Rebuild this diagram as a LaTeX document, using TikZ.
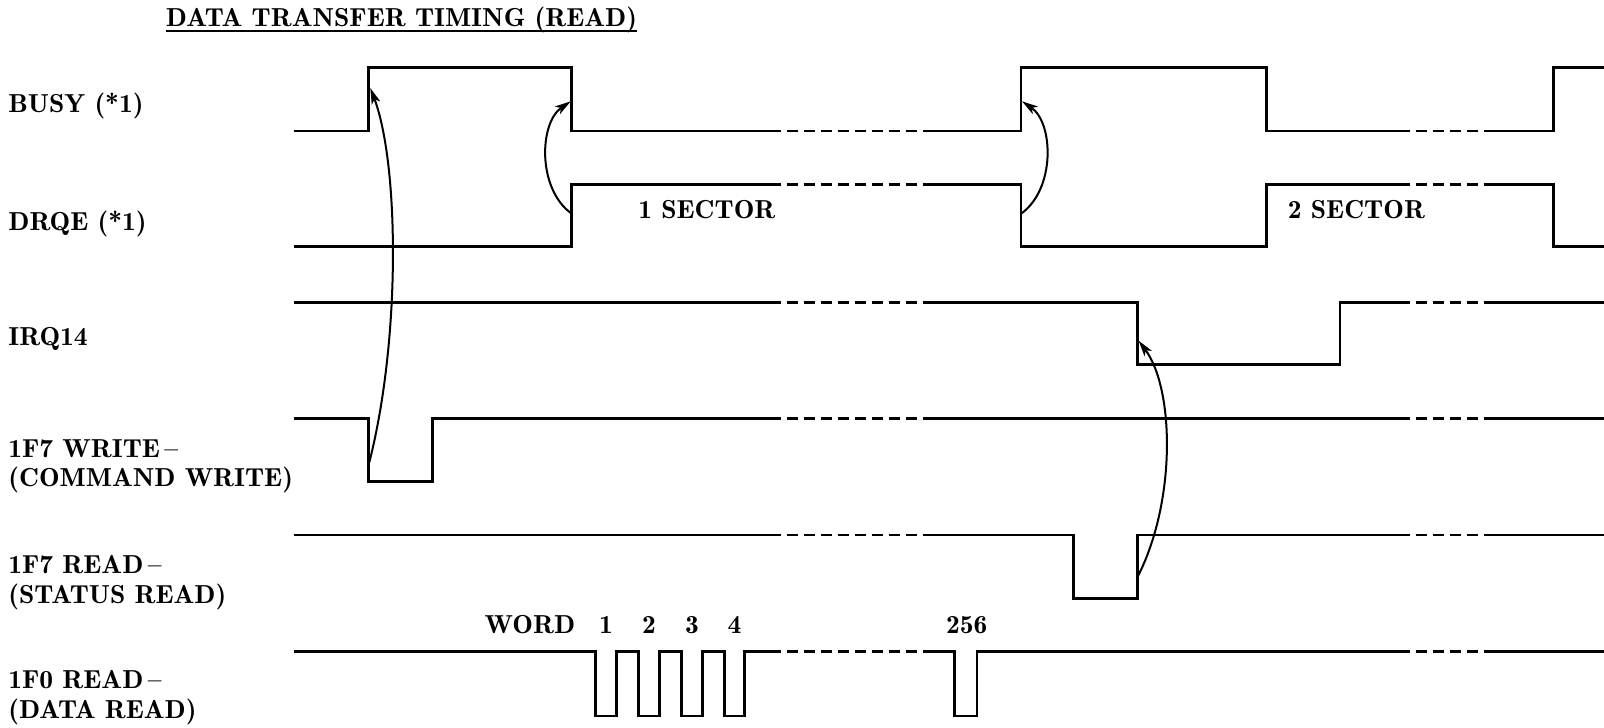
\documentclass[tikz,border=0pt]{standalone}
\usepackage{fontspec}
\setmainfont{lmromandemi10-regular.otf}[FakeStretch=1.06]
\usetikzlibrary{arrows.meta}
\begin{document}
\begin{tikzpicture}[x=1.023pt,y=-1.023pt,
  sig/.style={line width=2.8pt, line join=miter, line cap=butt},
  gap/.style={sig, dash pattern=on 11pt off 6pt, dash phase=11pt},
  cause/.style={line width=2pt, -{Stealth[length=16pt,width=9pt,inset=4pt]}},
  lbl/.style={anchor=base west, inner sep=0pt, font=\fontsize{26}{30}\selectfont},
  txt/.style={anchor=base, inner sep=0pt, font=\fontsize{26}{30}\selectfont}]
\useasboundingbox (0,0) rectangle (1568,711);

% title
\node[lbl] (title) at (162,26) {DATA TRANSFER TIMING (READ)};
\draw[line width=1.6pt] ([yshift=-4.5pt]title.base west) -- ([yshift=-4.5pt]title.base east);

% signal labels
\node[lbl] (lbusy) at (8,110) {BUSY (*1)};
\node[lbl] (ldrqe) at (8,225) {DRQE (*1)};
\node[lbl] (lirq) at (8,338) {IRQ14};
\node[lbl] (lw1) at (8,447) {1F7 WRITE\,–};
\node[lbl] (lw2) at (8,476) {(COMMAND WRITE)};
\node[lbl] (lr1) at (8,561) {1F7 READ\,–};
\node[lbl] (lr2) at (8,590) {(STATUS READ)};
\node[lbl] (ld1) at (8,673) {1F0 READ\,–};
\node[lbl] (ld2) at (8,702) {(DATA READ)};

% BUSY
\draw[sig] (287,128) -- (360,128) -- (360,66) -- (559,66) -- (559,128) -- (763,128);
\draw[gap] (763,128) -- (905,128);
\draw[sig] (905,128) -- (998,128) -- (998,66) -- (1238,66) -- (1238,128) -- (1378,128);
\draw[gap] (1378,128) -- (1456,128);
\draw[sig] (1456,128) -- (1519,128) -- (1519,66) -- (1570,66);

% DRQE
\draw[sig] (287,241) -- (559,241) -- (559,180) -- (763,180);
\draw[gap] (763,180) -- (905,180);
\draw[sig] (905,180) -- (998,180) -- (998,241) -- (1238,241) -- (1238,180) -- (1378,180);
\draw[gap] (1378,180) -- (1456,180);
\draw[sig] (1456,180) -- (1519,180) -- (1519,241) -- (1570,241);

% IRQ14
\draw[sig] (287,296) -- (763,296);
\draw[gap] (763,296) -- (905,296);
\draw[sig] (905,296) -- (1112,296) -- (1112,356) -- (1310,356) -- (1310,296) -- (1378,296);
\draw[gap] (1378,296) -- (1456,296);
\draw[sig] (1456,296) -- (1570,296);

% 1F7 WRITE
\draw[sig] (287,409) -- (360,409) -- (360,471) -- (423,471) -- (423,409) -- (763,409);
\draw[gap] (763,409) -- (905,409);
\draw[sig] (905,409) -- (1378,409);
\draw[gap] (1378,409) -- (1456,409);
\draw[sig] (1456,409) -- (1570,409);

% 1F7 READ
\draw[sig] (287,523) -- (763,523);
\draw[gap] (763,523) -- (905,523);
\draw[sig] (905,523) -- (1049,523) -- (1049,585) -- (1112,585) -- (1112,523) -- (1378,523);
\draw[gap] (1378,523) -- (1456,523);
\draw[sig] (1456,523) -- (1570,523);

% 1F0 READ
\draw[sig] (287,637) -- (582,637) -- (582,700) -- (603,700) -- (603,637) -- (624,637) -- (624,700) -- (645,700) -- (645,637)
  -- (666,637) -- (666,700) -- (687,700) -- (687,637) -- (708,637) -- (708,700) -- (728,700) -- (728,637) -- (763,637);
\draw[gap] (763,637) -- (905,637);
\draw[sig] (905,637) -- (933,637) -- (933,700) -- (955,700) -- (955,637) -- (1378,637);
\draw[gap] (1378,637) -- (1456,637);
\draw[sig] (1456,637) -- (1570,637);

% texts
\node[txt] (s1) at (691,214) {1 SECTOR};
\node[txt] (s2) at (1326,214) {2 SECTOR};
\node[txt] (word) at (518,619) {WORD};
\node[txt] (w1) at (592.5,619) {1};
\node[txt] (w2) at (634.5,619) {2};
\node[txt] (w3) at (676.5,619) {3};
\node[txt] (w4) at (718,619) {4};
\node[txt] (w256) at (945,619) {256};

% causal arrows
\coordinate (a1s) at (361,452); \coordinate (a1e) at (362,86);
\coordinate (a2s) at (559,209); \coordinate (a2e) at (558,99);
\coordinate (a3s) at (998,209); \coordinate (a3e) at (999,99);
\coordinate (a4s) at (1112,564); \coordinate (a4e) at (1113,333);
\draw[cause] (a1s) .. controls (392,330) and (390,160) .. (a1e);
\draw[cause] (a2s) .. controls (525,185) and (527,120) .. (a2e);
\draw[cause] (a3s) .. controls (1032,185) and (1030,120) .. (a3e);
\draw[cause] (a4s) .. controls (1150,490) and (1148,380) .. (a4e);
\end{tikzpicture}
\end{document}
